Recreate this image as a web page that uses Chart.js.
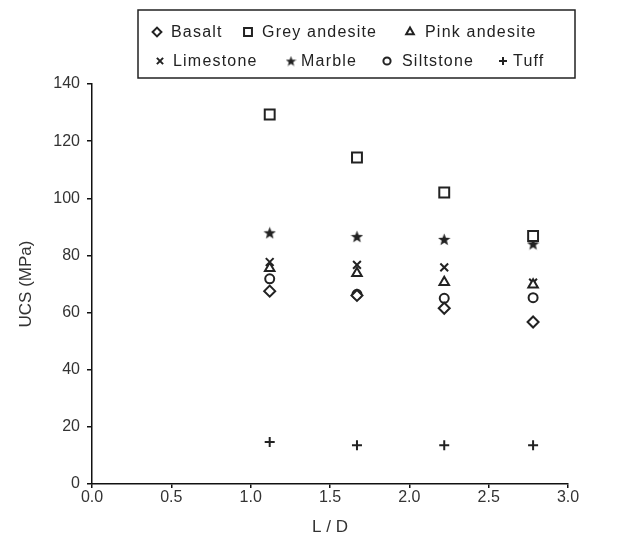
<!DOCTYPE html>
<html>
<head>
<meta charset="utf-8">
<script src="https://cdn.jsdelivr.net/npm/chart.js@4.4.0/dist/chart.umd.min.js"></script>
<style>
  html, body { margin: 0; padding: 0; background: #fff; }
  #wrap { width: 636px; height: 547px; }
</style>
</head>
<body>
<div id="wrap"><canvas id="ucs"></canvas></div>
<script>
// 데이터
const ldValues = [1.12, 1.67, 2.22, 2.78];
const basalt = [67.5, 66.0, 61.5, 56.7];
const greyAndesite = [129.3, 114.3, 102.0, 86.8];
const pinkAndesite = [75.5, 73.8, 70.6, 69.7];
const limestone = [77.7, 76.7, 75.8, 70.5];
const marble = [87.9, 86.6, 85.6, 84.0];
const siltstone = [71.8, 66.4, 65.0, 65.2];
const tuff = [14.7, 13.6, 13.6, 13.6];

const xTicks = [0, 0.5, 1.0, 1.5, 2.0, 2.5, 3.0];
const yTicks = [0, 20, 40, 60, 80, 100, 120, 140];

const ink = '#222';

// 채워진 별 모양 마커
function makeStar(size) {
  const c = document.createElement('canvas');
  c.width = size; c.height = size;
  const g = c.getContext('2d');
  const cx = size / 2, cy = size / 2 + 0.5;
  const R = size / 2, r = R * 0.42;
  g.beginPath();
  for (let i = 0; i < 10; i++) {
    const a = -Math.PI / 2 + i * Math.PI / 5;
    const rr = i % 2 === 0 ? R : r;
    g.lineTo(cx + rr * Math.cos(a), cy + rr * Math.sin(a));
  }
  g.closePath();
  g.fillStyle = ink;
  g.fill();
  return c;
}
const starBig = makeStar(13);
const starSmall = makeStar(11);

function pts(ys) {
  return ys.map((y, i) => ({ x: ldValues[i], y: y }));
}

const series = [
  { label: 'Basalt', data: basalt, style: 'rectRot', r: 5.5, fill: '#fff' },
  { label: 'Grey andesite', data: greyAndesite, style: 'rect', r: 7, fill: '#fff' },
  { label: 'Pink andesite', data: pinkAndesite, style: 'triangle', r: 5.5, fill: '#fff' },
  { label: 'Limestone', data: limestone, style: 'crossRot', r: 5.5, fill: ink },
  { label: 'Marble', data: marble, style: starBig, r: 6, fill: ink },
  { label: 'Siltstone', data: siltstone, style: 'circle', r: 4.5, fill: '#fff' },
  { label: 'Tuff', data: tuff, style: 'cross', r: 5, fill: ink },
];

// 범례 위치 (마커 x, 텍스트 x, y)
const legendLayout = [
  [157, 171, 32], [248, 262, 32], [410, 425, 32],
  [160, 173, 61], [291, 301, 61], [387, 402, 61], [503, 513, 61],
];

const boxLegend = {
  id: 'boxLegend',
  afterDraw(chart) {
    const ctx = chart.ctx;
    ctx.save();
    ctx.fillStyle = '#fff';
    ctx.fillRect(138, 10, 437, 68);
    ctx.strokeStyle = '#222';
    ctx.lineWidth = 1.5;
    ctx.strokeRect(138, 10, 437, 68);
    ctx.font = '16px "Liberation Sans", Arial, sans-serif';
    if ('letterSpacing' in ctx) ctx.letterSpacing = '1.2px';
    ctx.textBaseline = 'middle';
    series.forEach((s, i) => {
      const [mx, tx, ty] = legendLayout[i];
      ctx.fillStyle = s.fill;
      ctx.strokeStyle = ink;
      ctx.lineWidth = 2;
      const style = s.style === starBig ? starSmall : s.style;
      Chart.helpers.drawPoint(ctx, {
        pointStyle: style, radius: s.r * 0.8, rotation: 0, borderWidth: 2
      }, mx, ty);
      ctx.fillStyle = '#222';
      ctx.fillText(s.label, tx, ty + 1);
    });
    ctx.restore();
  }
};

const datasets = series.map(s => ({
  label: s.label,
  data: pts(s.data),
  pointStyle: s.style,
  pointRadius: s.r,
  pointHoverRadius: s.r,
  pointBackgroundColor: s.fill,
  pointBorderColor: ink,
  pointBorderWidth: 2,
  showLine: false,
}));

const axisFont = { family: '"Liberation Sans", Arial, sans-serif', size: 16 };

new Chart(document.getElementById('ucs'), {
  type: 'scatter',
  data: { datasets: datasets },
  options: {
    responsive: true,
    maintainAspectRatio: false,
    animation: false,
    events: [],
    layout: { padding: { top: 84, right: 68, left: 0, bottom: 0 } },
    plugins: {
      legend: { display: false },
      tooltip: { enabled: false },
    },
    scales: {
      x: {
        type: 'linear',
        min: 0, max: 3,
        afterBuildTicks: s => { s.ticks = xTicks.map(v => ({ value: v })); },
        afterFit: s => { s.height = 63; },
        ticks: { callback: v => v.toFixed(1), font: axisFont, color: '#333', padding: 0, maxRotation: 0 },
        grid: { drawOnChartArea: false, tickLength: 4, color: '#111', lineWidth: 1.5 },
        border: { color: '#111', width: 1.5 },
        title: { display: true, text: 'L / D', font: { ...axisFont, size: 17 }, color: '#333', padding: { top: 3, bottom: 9 } },
      },
      y: {
        min: 0, max: 140,
        afterBuildTicks: s => { s.ticks = yTicks.map(v => ({ value: v })); },
        afterFit: s => { s.width = 92; },
        ticks: { font: axisFont, color: '#333', padding: 7 },
        grid: { drawOnChartArea: false, tickLength: 5, color: '#111', lineWidth: 1.5 },
        border: { color: '#111', width: 1.5 },
        title: { display: true, text: 'UCS (MPa)', font: { ...axisFont, size: 17 }, color: '#333', padding: { top: 16, bottom: 0 } },
      },
    },
  },
  plugins: [boxLegend],
});
</script>
</body>
</html>
